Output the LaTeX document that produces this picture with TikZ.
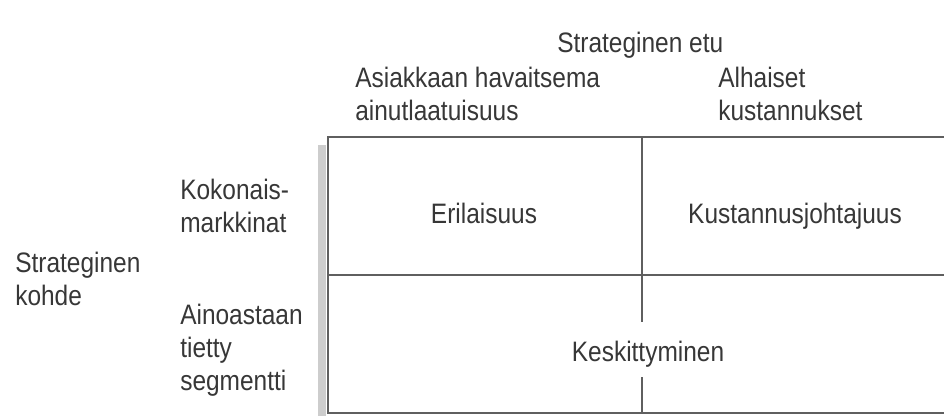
\documentclass[tikz,border=0pt]{standalone}
\usepackage{fontspec}
\setmainfont[FakeStretch=0.87]{Liberation Sans}
\usepackage{tikz}
\usetikzlibrary{positioning}
\usepackage{xcolor}
\definecolor{inkgray}{RGB}{55, 55, 55}
\definecolor{linegray}{RGB}{95, 95, 95}
\definecolor{shadowgray}{RGB}{205, 205, 205}

\tikzset{
  lbl/.style={inkgray, inner sep=0pt, align=left, anchor=north west,
    font=\fontsize{20pt}{23.5pt}\selectfont},
  celltext/.style={inkgray, inner sep=0pt, anchor=base,
    font=\fontsize{20pt}{23.5pt}\selectfont},
  gridline/.style={linegray, line width=1.3pt},
}

\begin{document}
\begin{tikzpicture}[x=0.025cm, y=-0.025cm]
  % kuvan rajat pikseleinä
  \useasboundingbox (0,0) rectangle (944,416);

  % varjo taulukon vasemmalla puolella
  \fill[shadowgray] (318,145) rectangle (326,416);

  % taulukon viivat (oikea reuna jää auki)
  \draw[gridline] (944,137) -- (328,137) -- (328,413) -- (944,413);
  \draw[gridline] (328,275) -- (944,275);
  \draw[gridline] (642,137) -- (642,322);
  \draw[gridline] (642,377) -- (642,413);

  % yläotsikot
  \node[lbl] (etu) at (557,32) {Strateginen etu};
  \node[lbl] (ainut) at (355,67) {Asiakkaan havaitsema\\ainutlaatuisuus};
  \node[lbl] (kust) at (718,67) {Alhaiset\\kustannukset};

  % vasemmat otsikot
  \node[lbl] (kohde) at (15,252) {Strateginen\\kohde};
  \node[lbl] (koko) at (180,179) {Kokonais-\\markkinat};
  \node[lbl] (segm) at (180,304) {Ainoastaan\\tietty\\segmentti};

  % solut
  \node[celltext] (eri) at (484,223) {Erilaisuus};
  \node[celltext] (johto) at (795,223) {Kustannusjohtajuus};
  \node[celltext] (kesk) at (648,361) {Keskittyminen};

\end{tikzpicture}
\end{document}
